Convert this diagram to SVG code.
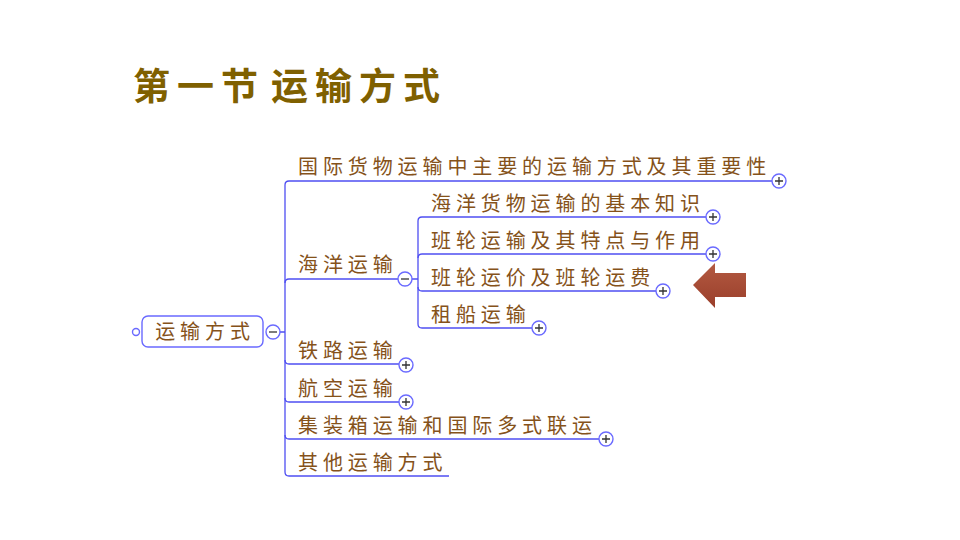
<svg xmlns="http://www.w3.org/2000/svg" width="960" height="540" viewBox="0 0 960 540">
<defs>
<style>
.t{font-family:"Noto Sans CJK SC","Noto Sans CJK JP",sans-serif;font-size:20px;fill:#85521a;letter-spacing:4.9px}
.title{font-family:"Noto Sans CJK SC","Noto Sans CJK JP",sans-serif;font-size:37px;font-weight:bold;fill:#7f6000;letter-spacing:7px}
.ln{fill:none;stroke:#4f4ff2;stroke-width:1.3}
.c{fill:#fff;stroke:#6a6aff;stroke-width:1.4}
.s{stroke:#333;stroke-width:1.3}
.box{fill:#fff;stroke:#6a6aff;stroke-width:1.4}
</style>
<linearGradient id="ag" x1="0" y1="0" x2="0" y2="1">
<stop offset="0" stop-color="#b35a42"/>
<stop offset="1" stop-color="#9a3e2a"/>
</linearGradient>
</defs>
<rect width="960" height="540" fill="#fff"/>
<text class="title" x="133" y="100">第一节<tspan x="271">运输方式</tspan></text>

<g id="connectors">
<path class="ln" d="M280 332 H285 M285 185 V472"/>
<path class="ln" d="M285 185 Q285 181 289 181 H772"/>
<path class="ln" d="M285 283 Q285 279 289 279 H398"/>
<path class="ln" d="M285 360 Q285 364 289 364 H399"/>
<path class="ln" d="M285 398 Q285 402 289 402 H399"/>
<path class="ln" d="M285 435 Q285 439 289 439 H599"/>
<path class="ln" d="M285 472 Q285 476 289 476 H449"/>
<path class="ln" d="M412 279 H418 M418 221 V324"/>
<path class="ln" d="M418 221 Q418 217 422 217 H706"/>
<path class="ln" d="M418 258 Q418 254 422 254 H706"/>
<path class="ln" d="M418 287 Q418 291 422 291 H656"/>
<path class="ln" d="M418 324 Q418 328 422 328 H532"/>
</g>

<g id="root">
<circle class="c" cx="136" cy="332" r="3.5"/>
<rect class="box" x="142" y="316" width="121" height="31" rx="6"/>
<text class="t" x="205" y="339" text-anchor="middle">运输方式</text>
<circle class="c" cx="273" cy="332" r="7"/>
<line class="s" x1="269" y1="332" x2="277" y2="332"/>
</g>

<g id="n-intl">
<text class="t" x="298" y="174">国际货物运输中主要的运输方式及其重要性</text>
<circle class="c" cx="779" cy="181" r="7"/>
<path class="s" d="M775 181 H783 M779 177 V185"/>
</g>

<g id="n-sea">
<text class="t" x="298" y="272">海洋运输</text>
<circle class="c" cx="405" cy="279" r="7"/>
<line class="s" x1="401" y1="279" x2="409" y2="279"/>
</g>

<g id="n-sea-basic">
<text class="t" x="431" y="211">海洋货物运输的基本知识</text>
<circle class="c" cx="713" cy="217" r="7"/>
<path class="s" d="M709 217 H717 M713 213 V221"/>
</g>

<g id="n-liner">
<text class="t" x="431" y="248">班轮运输及其特点与作用</text>
<circle class="c" cx="713" cy="254" r="7"/>
<path class="s" d="M709 254 H717 M713 250 V258"/>
</g>

<g id="n-freight">
<text class="t" x="431" y="285">班轮运价及班轮运费</text>
<circle class="c" cx="663" cy="291" r="7"/>
<path class="s" d="M659 291 H667 M663 287 V295"/>
</g>

<g id="n-charter">
<text class="t" x="431" y="322">租船运输</text>
<circle class="c" cx="539" cy="328" r="7"/>
<path class="s" d="M535 328 H543 M539 324 V332"/>
</g>

<g id="n-rail">
<text class="t" x="298" y="358">铁路运输</text>
<circle class="c" cx="406" cy="365" r="7"/>
<path class="s" d="M402 365 H410 M406 361 V369"/>
</g>

<g id="n-air">
<text class="t" x="298" y="396">航空运输</text>
<circle class="c" cx="406" cy="402" r="7"/>
<path class="s" d="M402 402 H410 M406 398 V406"/>
</g>

<g id="n-container">
<text class="t" x="298" y="433">集装箱运输和国际多式联运</text>
<circle class="c" cx="606" cy="439" r="7"/>
<path class="s" d="M602 439 H610 M606 435 V443"/>
</g>

<g id="n-other">
<text class="t" x="298" y="470">其他运输方式</text>
</g>

<g id="arrow">
<polygon points="693,285 715,263 715,273 746,273 746,297 715,297 715,308" fill="url(#ag)"/>
</g>
</svg>
